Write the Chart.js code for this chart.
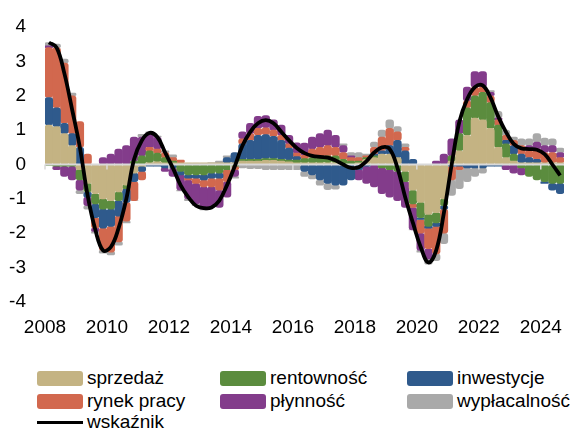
<!DOCTYPE html>
<html><head><meta charset="utf-8">
<script src="https://cdn.jsdelivr.net/npm/chart.js@4/dist/chart.umd.min.js"></script>
<style>
html,body{margin:0;padding:0;background:#fff;}
#wrap{position:relative;width:570px;height:433px;overflow:hidden;font-family:'Liberation Sans Narrow','Arial Narrow','Liberation Sans',Arial,sans-serif;}
#c{position:absolute;left:0;top:0;}
.lg{position:absolute;display:flex;align-items:center;height:22px;font-size:19px;color:#000;white-space:nowrap;}
.sw{width:46px;height:15px;border-radius:3px;margin-right:4px;}
.ln{width:46px;height:3px;background:#000;margin-right:4px;}
</style></head><body>
<div id="wrap"><canvas id="c" width="570" height="345"></canvas><div id="legend"></div></div>
<script>
// ---- data (quarterly, 2008Q1 .. 2024Q3) ----
const startYear = 2008;
const yearTicks = [2008, 2010, 2012, 2014, 2016, 2018, 2020, 2022, 2024];
const yTicks = [-4, -3, -2, -1, 0, 1, 2, 3, 4];
const seriesNames = ['sprzedaż', 'rentowność', 'inwestycje', 'rynek pracy', 'płynność', 'wypłacalność'];
const lineName = 'wskaźnik';

const sprzedaz = [
  1.15, 1.1, 0.9, 0.55, -0.15, -0.55, -0.85, -1.0, -1.05, -0.8,
  -0.6, -0.25, -0.05, 0.05, 0.08, 0.05, 0.05, 0.05, 0.05, 0.05,
  0.05, 0.05, 0.05, 0.05, 0.05, 0.1, 0.1, 0.1, 0.12, 0.12,
  0.1, 0.08, 0.05, 0.05, 0.05, 0.05, 0.05, 0.05, 0.0, 0.0,
  0.05, 0.15, 0.2, 0.3, 0.3, 0.2, -0.2, -0.75, -1.1, -1.45,
  -1.4, -1.0, 0.1, 0.4, 0.85, 1.35, 1.3, 1.05, 0.5, 0.2,
  0.1, 0.05, 0.05, 0.05, 0.05, 0.05, 0.05];
const rentownosc = [
  -0.03, -0.05, -0.05, -0.05, -0.3, -0.25, -0.3, -0.3, -0.25, -0.25,
  -0.1, 0.1, 0.25, 0.35, 0.25, 0.15, 0.05, -0.2, -0.3, -0.3,
  -0.3, -0.25, -0.25, -0.15, -0.05, 0.05, 0.05, 0.05, 0.05, 0.05,
  0.05, 0.05, 0.08, 0.12, 0.15, 0.15, 0.2, 0.2, 0.15, 0.1,
  0.05, 0.05, 0.05, -0.1, -0.15, -0.2, -0.3, -0.4, -0.45, -0.35,
  -0.3, -0.2, 0.15, 0.5, 0.8, 0.65, 0.8, 0.75, 0.65, 0.4,
  0.2, -0.1, -0.35, -0.45, -0.5, -0.55, -0.55];
const inwestycje = [
  0.8, 0.55, 0.3, 0.35, 0.5, -0.15, -0.4, -0.55, -0.5, -0.45,
  -0.4, -0.25, -0.15, -0.05, -0.05, -0.1, -0.1, -0.1, -0.1, -0.1,
  -0.15, -0.15, -0.15, 0.15, 0.3, 0.45, 0.55, 0.7, 0.7, 0.65,
  0.55, 0.35, 0.1, -0.2, -0.3, -0.45, -0.55, -0.6, -0.6, -0.45,
  -0.15, -0.05, 0.05, 0.1, 0.25, 0.5, 0.4, 0.15, -0.05, -0.05,
  -0.1, -0.1, -0.05, -0.05, -0.1, -0.1, -0.1, -0.05, -0.05, 0.1,
  0.25, 0.25, 0.15, 0.1, -0.05, -0.2, -0.3];
const rynekPracy = [
  1.45, 1.75, 1.75, 1.1, 0.75, 0.3, -0.3, -0.65, -0.75, -0.75,
  -0.55, -0.55, -0.25, 0.1, 0.12, 0.15, 0.1, 0.08, -0.05, -0.15,
  -0.2, -0.25, -0.35, -0.35, -0.1, 0.15, 0.2, 0.2, 0.2, 0.18,
  0.15, 0.12, 0.1, 0.1, 0.25, 0.3, 0.3, 0.25, 0.2, 0.1,
  0.1, 0.05, 0.2, 0.4, 0.5, 0.25, 0.1, -0.1, -0.4, -0.6,
  -0.8, -0.7, -0.4, -0.1, 0.2, 0.25, 0.15, 0.2, 0.15, 0.15,
  0.15, 0.25, 0.2, 0.3, 0.3, 0.3, 0.15];
const plynnosc = [
  0.05, -0.1, -0.3, -0.4, -0.3, -0.25, -0.1, 0.2, 0.3, 0.45,
  0.55, 0.7, 0.55, 0.4, 0.35, -0.1, -0.25, -0.45, -0.55, -0.6,
  -0.65, -0.6, -0.5, -0.45, -0.2, 0.2, 0.3, 0.35, 0.35, 0.3,
  0.3, 0.25, 0.3, 0.35, 0.35, 0.4, 0.45, 0.35, 0.2, 0.05,
  -0.3, -0.5, -0.65, -0.75, -0.8, -0.85, -0.75, -0.65, -0.5, -0.3,
  0.1, 0.3, 0.5, 0.4, 0.4, 0.45, 0.45, 0.1, 0.05, -0.15,
  -0.25, -0.2, 0.15, 0.2, 0.2, 0.2, 0.15];
const wyplacalnosc = [
  0.1, 0.1, 0.12, 0.08, -0.1, -0.1, -0.05, -0.08, -0.08, -0.1,
  -0.05, 0.0, 0.08, 0.05, 0.03, 0.05, 0.08, -0.02, -0.05, -0.05,
  -0.02, 0.0, 0.05, 0.05, -0.05, -0.1, -0.12, -0.12, -0.15, -0.15,
  -0.15, -0.15, -0.15, -0.15, -0.12, -0.15, -0.18, -0.12, 0.05, 0.1,
  0.15, 0.05, 0.15, 0.2, 0.25, 0.15, 0.1, 0.0, -0.05, -0.15,
  -0.2, -0.3, -0.45, -0.55, -0.4, -0.25, -0.15, 0.05, 0.2, 0.15,
  0.1, 0.2, 0.2, 0.25, 0.22, 0.2, 0.13];
const wskaznik = [
  3.55, 3.4, 2.65, 1.6, 0.5, -0.9, -1.9, -2.5, -2.4, -1.85,
  -1.0, 0.15, 0.7, 0.92, 0.8, 0.35, -0.1, -0.6, -0.95, -1.2,
  -1.27, -1.25, -1.05, -0.6, -0.05, 0.55, 0.95, 1.2, 1.29, 1.2,
  0.95, 0.7, 0.48, 0.33, 0.25, 0.22, 0.2, 0.12, 0.0, -0.1,
  -0.08, 0.1, 0.35, 0.5, 0.45, -0.1, -0.95, -1.7, -2.4, -2.85,
  -2.5, -1.4, 0.0, 1.25, 1.9, 2.25, 2.3, 1.95, 1.4, 0.95,
  0.6, 0.47, 0.45, 0.43, 0.3, 0.0, -0.32];

// ---- styles ----
const seriesValues = [sprzedaz, rentownosc, inwestycje, rynekPracy, plynnosc, wyplacalnosc];
const seriesColors = ['#c4b383', '#5b8c3e', '#2f5a8c', '#d2684e', '#833c8b', '#a9a9a9'];
const FONT = "'Liberation Sans Narrow','Arial Narrow','Liberation Sans',Arial,sans-serif";

// quarter centres on a continuous year axis
const xOf = i => startYear + i / 4 + 0.125;
const toPts = arr => arr.map((v, i) => ({ x: xOf(i), y: v }));

const datasets = seriesValues.map((vals, k) => ({
  type: 'bar',
  label: seriesNames[k],
  data: toPts(vals),
  backgroundColor: seriesColors[k],
  stack: 'bars',
  order: 1,
  barPercentage: 1,
  categoryPercentage: 1,
  borderSkipped: false,
  borderRadius: { topLeft: 3, topRight: 3, bottomLeft: 3, bottomRight: 3 }
}));
datasets.push({
  type: 'line',
  label: lineName,
  data: toPts(wskaznik),
  borderColor: '#000',
  borderWidth: 3.8,
  pointRadius: 0,
  tension: 0.4,
  fill: false,
  stack: 'line',
  order: 0
});

let barsDrawn = 0;
const zeroLine = {
  id: 'zeroLine',
  beforeDatasetsDraw() { barsDrawn = 0; },
  afterDatasetDraw(chart, args) {
    if (args.meta.type !== 'bar') return;
    barsDrawn++;
    if (barsDrawn !== seriesValues.length) return;
    const { ctx, chartArea } = chart;
    const y = chart.scales.y.getPixelForValue(0);
    ctx.save();
    ctx.strokeStyle = '#d9d9d9';
    ctx.lineWidth = 2;
    ctx.beginPath();
    ctx.moveTo(chartArea.left, y);
    ctx.lineTo(chartArea.right, y);
    ctx.stroke();
    ctx.lineWidth = 1.5;
    yearTicks.forEach(t => {
      const x = chart.scales.x.getPixelForValue(t);
      ctx.beginPath();
      ctx.moveTo(x, y);
      ctx.lineTo(x, y + 5);
      ctx.stroke();
    });
    ctx.restore();
  }
};

new Chart(document.getElementById('c'), {
  data: { datasets },
  options: {
    responsive: false,
    animation: false,
    layout: { padding: { top: 27, right: 6, left: 0, bottom: 0 } },
    plugins: { legend: { display: false }, tooltip: { enabled: false } },
    scales: {
      x: {
        type: 'linear',
        offset: false,
        min: startYear,
        max: startYear + wskaznik.length / 4,
        grid: { display: false, drawTicks: false, offset: false },
        border: { display: false },
        afterBuildTicks: s => { s.ticks = yearTicks.map(v => ({ value: v })); },
        afterFit: s => { s.height = 43; s.paddingLeft = 0; s.paddingRight = 0; },
        ticks: {
          autoSkip: false, maxRotation: 0, padding: 14, color: '#000',
          font: { family: FONT, size: 19 },
          callback: v => String(v)
        }
      },
      y: {
        stacked: true,
        min: -4, max: 4,
        grid: { display: false, drawTicks: false },
        border: { display: false },
        afterBuildTicks: s => { s.ticks = yTicks.map(v => ({ value: v })); },
        afterFit: s => { s.width = 45; s.paddingTop = 0; s.paddingBottom = 0; },
        ticks: {
          padding: 19, color: '#000',
          font: { family: FONT, size: 19 },
          callback: v => String(v)
        }
      }
    }
  },
  plugins: [zeroLine]
});

// ---- legend ----
const legend = document.getElementById('legend');
const colX = [37, 220, 407];
const rowY = [367, 390, 411];
seriesNames.forEach((name, k) => {
  const d = document.createElement('div');
  d.className = 'lg';
  d.style.left = colX[k % 3] + 'px';
  d.style.top = rowY[Math.floor(k / 3)] + 'px';
  d.innerHTML = '<div class="sw" style="background:' + seriesColors[k] + '"></div><span></span>';
  d.querySelector('span').textContent = name;
  legend.appendChild(d);
});
const dl = document.createElement('div');
dl.className = 'lg';
dl.style.left = colX[0] + 'px';
dl.style.top = rowY[2] + 'px';
dl.innerHTML = '<div class="ln"></div><span></span>';
dl.querySelector('span').textContent = lineName;
legend.appendChild(dl);
</script>
</body></html>
